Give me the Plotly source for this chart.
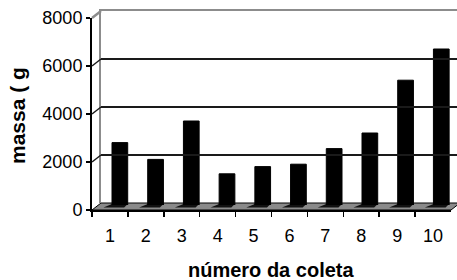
import plotly.graph_objects as go

# ---- data ----
coletas = ["1", "2", "3", "4", "5", "6", "7", "8", "9", "10"]
massa = [2600, 1900, 3500, 1300, 1600, 1700, 2350, 3000, 5200, 6500]
y_ticks = [0, 2000, 4000, 6000, 8000]
grid_vals = [2000, 4000, 6000]
x_title = "número da coleta"
y_title = "massa ( g"

W, H = 457, 280
FONT = "Arial, 'Liberation Sans', sans-serif"


def px(x):
    return x / W


def py(y):
    return 1 - y / H


# geometry (pixels) of the pseudo-3D frame
FRONT_L, FRONT_R, FRONT_BOT, FRONT_TOP = 92, 451, 210, 18
BACK_L, BACK_BOT, BACK_TOP = 101, 203, 11
BAR_L, BAR_BOT, BAR_TOP = 102, 205, 13
YMAX = 8000
BAR_W = 0.44

fig = go.Figure()

xs = list(range(1, len(massa) + 1))
# bars (mid-depth axis)
fig.add_trace(go.Bar(
    x=xs, y=massa,
    marker=dict(color="#000000", line=dict(color="#000000", width=1)),
    width=BAR_W, xaxis="x", yaxis="y", hoverinfo="skip", showlegend=False,
))
# invisible trace carrying the front category axis
fig.add_trace(go.Scatter(
    x=coletas, y=[0] * len(coletas), mode="markers",
    marker=dict(opacity=0), xaxis="x3", yaxis="y3",
    hoverinfo="skip", showlegend=False,
))
# invisible trace for back wall axis
fig.add_trace(go.Scatter(
    x=[0, 1], y=[0, 0], mode="markers", marker=dict(opacity=0),
    xaxis="x2", yaxis="y2", hoverinfo="skip", showlegend=False,
))

shapes = []
# floor
shapes.append(dict(
    type="path", xref="paper", yref="paper", layer="below",
    path=(f"M {px(FRONT_L)},{py(FRONT_BOT)} L {px(FRONT_R)},{py(FRONT_BOT)} "
          f"L {px(FRONT_R + 9)},{py(BACK_BOT)} L {px(BACK_L)},{py(BACK_BOT)} Z"),
    fillcolor="#8a8a8a", line=dict(color="#000000", width=1),
))
# bar footprints on the floor
for xi in xs:
    l, r = xi - BAR_W / 2, xi + BAR_W / 2
    shapes.append(dict(
        type="path", xref="x", yref="paper", layer="below",
        path=(f"M {l - 0.24},{py(207.5)} L {r - 0.1},{py(207.5)} "
              f"L {r},{py(204)} L {l},{py(204)} Z"),
        fillcolor="#111111", line=dict(width=0),
    ))
# top-left diagonal of the wall
shapes.append(dict(
    type="line", xref="paper", yref="paper",
    x0=px(FRONT_L), y0=py(FRONT_TOP), x1=px(BACK_L), y1=py(BACK_TOP),
    line=dict(color="#8c8c8c", width=2.5),
))
# side-wall diagonals for gridlines
for v in grid_vals:
    yf = FRONT_BOT - (FRONT_BOT - FRONT_TOP) * v / YMAX
    yb = BACK_BOT - (BACK_BOT - BACK_TOP) * v / YMAX
    shapes.append(dict(
        type="line", xref="paper", yref="paper",
        x0=px(FRONT_L), y0=py(yf), x1=px(BACK_L), y1=py(yb),
        line=dict(color="#1a1a1a", width=1.5),
    ))

annotations = [
    dict(text=f"<b>{x_title}</b>", xref="paper", yref="paper",
         x=px(271), y=py(270), xanchor="center", yanchor="middle",
         showarrow=False,
         font=dict(family=FONT, size=20, color="#000000")),
    dict(text=f"<b>{y_title}</b>", xref="paper", yref="paper",
         x=px(17), y=py(116), xanchor="center", yanchor="middle",
         showarrow=False, textangle=-90,
         font=dict(family=FONT, size=21, color="#000000")),
]

fig.update_layout(
    template="none",
    width=W, height=H,
    margin=dict(l=0, r=0, t=0, b=0, pad=0),
    paper_bgcolor="#ffffff", plot_bgcolor="rgba(0,0,0,0)",
    font=dict(family=FONT, size=18, color="#000000"),
    showlegend=False,
    bargap=0,
    # bars
    xaxis=dict(domain=[px(BAR_L), 1.0], range=[0.5, 10.44], visible=False,
               fixedrange=True, automargin=False),
    yaxis=dict(domain=[py(BAR_BOT), py(BAR_TOP)], range=[0, YMAX],
               visible=False, fixedrange=True, anchor="x", automargin=False),
    # back wall
    xaxis2=dict(domain=[px(BACK_L), 1.0], range=[0, 1], side="top",
                anchor="y2", showline=True, linecolor="#8c8c8c", linewidth=2.5,
                showticklabels=False, ticks="", showgrid=False, zeroline=False,
                fixedrange=True, automargin=False),
    yaxis2=dict(domain=[py(BACK_BOT), py(BACK_TOP)], range=[0, YMAX],
                anchor="x2", showline=True, linecolor="#8c8c8c", linewidth=2.5,
                tickvals=grid_vals, showticklabels=False, ticks="",
                showgrid=True, gridcolor="#1a1a1a", gridwidth=1.6,
                zeroline=False, fixedrange=True, automargin=False),
    # front axes
    xaxis3=dict(domain=[px(FRONT_L), px(FRONT_R)], type="category",
                categoryorder="array", categoryarray=coletas,
                range=[-0.5, len(coletas) - 0.5], anchor="y3",
                showline=True, linecolor="#000000", linewidth=2,
                ticks="outside", tickson="boundaries", ticklen=5,
                tickwidth=1.5, tickcolor="#000000", showgrid=False,
                zeroline=False, ticklabelstandoff=8, automargin=False,
                tickfont=dict(family=FONT, size=18, color="#000000"),
                fixedrange=True),
    yaxis3=dict(domain=[py(FRONT_BOT), py(FRONT_TOP)], range=[0, YMAX],
                anchor="x3", showline=True, linecolor="#000000", linewidth=2,
                tickvals=y_ticks, ticktext=[str(v) for v in y_ticks],
                ticks="outside", ticklen=4, tickwidth=1.5, automargin=False,
                tickcolor="#000000", showgrid=False, zeroline=False,
                tickfont=dict(family=FONT, size=18, color="#000000"),
                fixedrange=True),
    shapes=shapes,
    annotations=annotations,
)

fig.write_html(
    "out.html",
    config={"displayModeBar": False, "staticPlot": True},
    post_script="document.body.style.margin='0';document.body.style.padding='0';",
)
